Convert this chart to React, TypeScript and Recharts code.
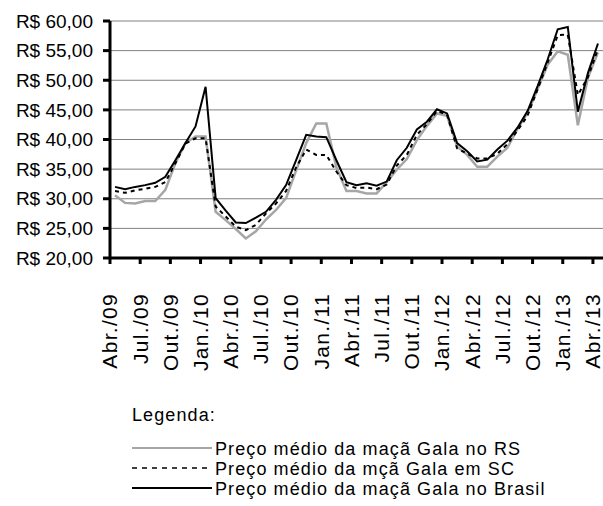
import { LineChart, Line, XAxis, YAxis, CartesianGrid } from 'recharts'

const months = [
  'Abr./09', 'Mai./09', 'Jun./09', 'Jul./09', 'Ago./09', 'Set./09', 'Out./09', 'Nov./09', 'Dez./09',
  'Jan./10', 'Fev./10', 'Mar./10', 'Abr./10', 'Mai./10', 'Jun./10', 'Jul./10', 'Ago./10', 'Set./10',
  'Out./10', 'Nov./10', 'Dez./10', 'Jan./11', 'Fev./11', 'Mar./11', 'Abr./11', 'Mai./11', 'Jun./11',
  'Jul./11', 'Ago./11', 'Set./11', 'Out./11', 'Nov./11', 'Dez./11', 'Jan./12', 'Fev./12', 'Mar./12',
  'Abr./12', 'Mai./12', 'Jun./12', 'Jul./12', 'Ago./12', 'Set./12', 'Out./12', 'Nov./12', 'Dez./12',
  'Jan./13', 'Fev./13', 'Mar./13', 'Abr./13',
]

// preço médio RS (cinza)
const rs = [
  30.6, 29.3, 29.2, 29.6, 29.6, 31.5, 36.0, 39.4, 40.5, 40.5, 27.8, 26.4, 24.9, 23.3, 24.5, 26.5, 28.1,
  30.1, 34.8, 39.4, 42.7, 42.7, 35.3, 31.3, 31.3, 30.9, 30.9, 32.8, 34.9, 36.7, 39.9, 42.3, 44.4, 44.0,
  38.8, 37.4, 35.4, 35.4, 37.1, 38.6, 41.8, 44.5, 48.5, 52.6, 54.9, 54.3, 42.4, 50.4, 54.7,
]

// preço médio SC (tracejado)
const sc = [
  31.3, 31.0, 31.4, 31.7, 32.0, 32.8, 36.0, 39.3, 40.2, 40.2, 28.7, 27.0, 25.3, 24.7, 25.6, 27.5, 29.2,
  31.3, 35.3, 38.3, 37.4, 37.4, 34.6, 32.3, 31.8, 31.9, 31.6, 32.4, 35.6, 37.4, 40.8, 42.6, 44.8, 44.2,
  38.5, 37.6, 36.8, 36.8, 37.6, 39.2, 41.5, 44.0, 48.5, 53.0, 57.6, 57.7, 47.5, 50.5, 55.3,
]

// preço médio Brasil (preto)
const br = [
  32.0, 31.6, 32.0, 32.3, 32.7, 33.7, 36.5, 39.4, 42.2, 48.9, 30.1, 28.0, 26.0, 25.9, 26.8, 27.8, 29.8,
  32.3, 36.5, 40.8, 40.5, 40.4, 36.5, 32.8, 32.3, 32.6, 32.2, 32.9, 36.5, 38.6, 41.7, 43.0, 45.1, 44.4,
  39.4, 38.0, 36.3, 36.6, 38.3, 39.8, 42.0, 44.8, 49.0, 53.5, 58.6, 59.0, 44.7, 51.2, 56.2,
]

const yTicks = [20, 25, 30, 35, 40, 45, 50, 55, 60]
// marcas a cada 3 meses, na fronteira das categorias
const xTicks = months.map((_, i) => i - 0.5).filter((_, i) => i % 3 === 0)

const data = months.map((m, i) => ({ i, m, rs: rs[i], sc: sc[i], br: br[i] }))

const FONT = '"Liberation Sans", Arial, sans-serif'

const fmtReal = (v: number) => `R$ ${v.toFixed(2).replace('.', ',')}`

function XTick({ x, y, payload }: any) {
  const label = months[Math.round(payload.value + 0.5)]
  const ty = y + 27
  return (
    <text
      x={x}
      y={ty}
      dy="0.35em"
      transform={`rotate(-90 ${x} ${ty})`}
      textAnchor="end"
      fontSize={21}
      letterSpacing={1.3}
      fontFamily={FONT}
      fill="#000"
    >
      {label}
    </text>
  )
}

export default function App() {
  return (
    <div style={{ position: 'absolute', left: 0, top: 0, width: 603, height: 506, background: '#fff', fontFamily: FONT }}>
      <LineChart width={603} height={400} data={data} margin={{ top: 21, right: 0, bottom: 0, left: 0 }}>
        <CartesianGrid vertical={false} stroke="#808080" strokeWidth={1} />
        <XAxis
          dataKey="i"
          type="number"
          domain={[-0.5, 48.5]}
          ticks={xTicks}
          interval={0}
          height={142}
          axisLine={{ stroke: '#000', strokeWidth: 3 }}
          tickLine={{ stroke: '#000', strokeWidth: 3 }}
          tickSize={6}
          tick={<XTick />}
        />
        <YAxis
          type="number"
          domain={[20, 60]}
          ticks={yTicks}
          width={110}
          tickFormatter={fmtReal}
          axisLine={{ stroke: '#000', strokeWidth: 3 }}
          tickLine={{ stroke: '#000', strokeWidth: 3 }}
          tickSize={7}
          tickMargin={10}
          tick={{ fill: '#000', fontSize: 19, fontFamily: FONT }}
        />
        <Line type="linear" dataKey="rs" stroke="#a6a6a6" strokeWidth={2.5} dot={false} isAnimationActive={false} />
        <Line type="linear" dataKey="sc" stroke="#000" strokeWidth={2} strokeDasharray="4 4" dot={false} isAnimationActive={false} />
        <Line type="linear" dataKey="br" stroke="#000" strokeWidth={2} dot={false} isAnimationActive={false} />
      </LineChart>
      <svg width={603} height={126} style={{ position: 'absolute', left: 0, top: 380 }}>
        <g fontFamily={FONT} fontSize={18} letterSpacing={1.1} fill="#000">
          <text x={132} y={41}>Legenda:</text>
          <line x1={132} x2={212} y1={68} y2={68} stroke="#a6a6a6" strokeWidth={2} />
          <text x={215} y={75}>Preço médio da maçã Gala no RS</text>
          <line x1={132} x2={212} y1={88} y2={88} stroke="#000" strokeWidth={1.5} strokeDasharray="5 5" />
          <text x={215} y={95}>Preço médio da mçã Gala em SC</text>
          <line x1={132} x2={212} y1={108} y2={108} stroke="#000" strokeWidth={2} />
          <text x={215} y={115}>Preço médio da maçã Gala no Brasil</text>
        </g>
      </svg>
    </div>
  )
}
